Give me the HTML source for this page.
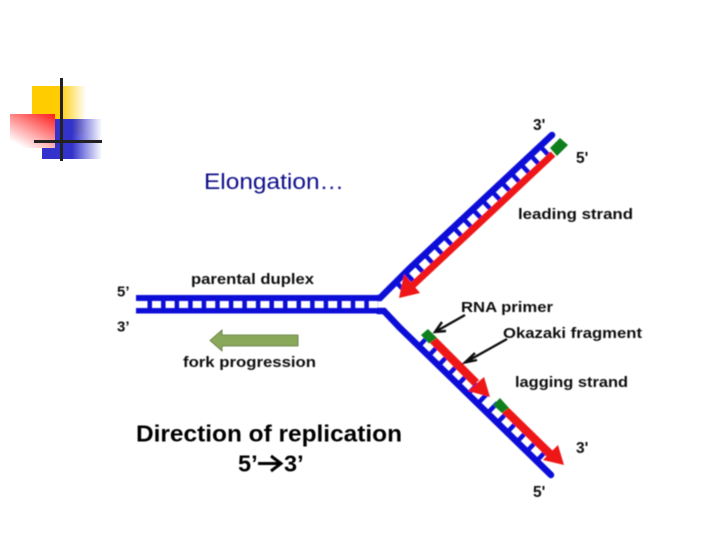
<!DOCTYPE html>
<html><head><meta charset="utf-8"><style>
html,body{margin:0;padding:0;background:#fff;width:720px;height:540px;overflow:hidden}
svg{display:block}
text{font-family:"Liberation Sans",sans-serif;font-weight:bold;fill:#111}
</style></head><body>
<svg width="720" height="540" viewBox="0 0 720 540" xmlns="http://www.w3.org/2000/svg">
<defs>
<linearGradient id="y" x1="0" x2="1" y1="0" y2="0"><stop offset="0.5" stop-color="#ffcc00"/><stop offset="1" stop-color="#ffcc00" stop-opacity="0"/></linearGradient>
<linearGradient id="b" x1="0" x2="1" y1="0" y2="0"><stop offset="0.5" stop-color="#3333cc"/><stop offset="1" stop-color="#3333cc" stop-opacity="0"/></linearGradient>
<linearGradient id="r" x1="1" x2="0.3" y1="0" y2="1"><stop offset="0" stop-color="#ff1a1a"/><stop offset="1" stop-color="#ffffff"/></linearGradient>
<filter id="s" x="-5%" y="-5%" width="110%" height="110%"><feGaussianBlur stdDeviation="0.45"/></filter>
</defs>
<rect x="32" y="86" width="54" height="48" fill="url(#y)"/>
<rect x="42" y="119" width="60" height="40" fill="url(#b)"/>
<rect x="10" y="114" width="45" height="34" fill="url(#r)"/>
<rect x="60" y="78" width="3" height="83" fill="#222"/>
<rect x="34" y="140" width="68" height="3" fill="#222"/>
<g filter="url(#s)">
<text x="204" y="189" font-size="22.500" textLength="140" lengthAdjust="spacingAndGlyphs" style="font-weight:normal;fill:#10108a">Elongation…</text>
<!-- parental duplex -->
<path d="M147.500 304.500H378" stroke="#0a0ad8" stroke-width="9" stroke-dasharray="4.500 9.050" fill="none"/>
<rect x="136" y="295" width="245" height="6" fill="#0a0ad8"/>
<rect x="136" y="308" width="245" height="5.500" fill="#0a0ad8"/>
<!-- upper arm -->
<path d="M548 147L395 292" stroke="#0a0ad8" stroke-width="14" stroke-dasharray="4.500 8.700" stroke-dashoffset="-2.950" fill="none"/>
<path d="M378 298L380 298L410 268L552 135" stroke="#0a0ad8" stroke-width="6.500" fill="none" stroke-linecap="round"/>
<path d="M553 154L412 286" stroke="#ee1818" stroke-width="7" fill="none"/>
<path d="M399 298L404 274L420 293Z" fill="#ee1818"/>
<path d="M550 148L560 138L568 145L557 156Z" fill="#0f7f1f"/>
<!-- lower arm -->
<path d="M421.300 340.400L545 459" stroke="#0a0ad8" stroke-width="15" stroke-dasharray="4.500 9.200" fill="none"/>
<path d="M378 311L384 311L400 328L551 475" stroke="#0a0ad8" stroke-width="6.500" fill="none" stroke-linecap="round"/>
<path d="M431 338L476 383" stroke="#ee1818" stroke-width="8.500" fill="none"/>
<path d="M490 397L484 377L468 391Z" fill="#ee1818"/>
<path d="M505 410L550 454" stroke="#ee1818" stroke-width="8.500" fill="none"/>
<path d="M564 465L558 445L543 460Z" fill="#ee1818"/>
<path d="M428 329L437 338L429 343.500L421 335Z" fill="#0f7f1f"/>
<path d="M500 398L509 408L502 413L493 405Z" fill="#0f7f1f"/>
<!-- pointer arrows -->
<path d="M465 315L435 332M442 322L435 332L446 331" stroke="#111" stroke-width="2.400" fill="none"/>
<path d="M507 339L465 362.500M475 353L465 362.500L477 360" stroke="#111" stroke-width="2.400" fill="none"/>
<!-- fork arrow -->
<path d="M298 335H222V330L210 340.500L222 351V346H298Z" fill="#8aa85a" stroke="#55703a" stroke-width="0.8"/>
<text x="533" y="130" font-size="15.500">3'</text>
<text x="576" y="163" font-size="15.500">5'</text>
<text x="518" y="219" font-size="15" textLength="115" lengthAdjust="spacingAndGlyphs">leading strand</text>
<text x="461" y="312" font-size="15" textLength="92" lengthAdjust="spacingAndGlyphs">RNA primer</text>
<text x="503" y="338" font-size="15" textLength="139" lengthAdjust="spacingAndGlyphs">Okazaki fragment</text>
<text x="515" y="387" font-size="15" textLength="113" lengthAdjust="spacingAndGlyphs">lagging strand</text>
<text x="576" y="453" font-size="15.500">3'</text>
<text x="533" y="497" font-size="15.500">5'</text>
<text x="117" y="296.500" font-size="15">5’</text>
<text x="117" y="331.500" font-size="15">3’</text>
<text x="191" y="284" font-size="15" textLength="123" lengthAdjust="spacingAndGlyphs">parental duplex</text>
<text x="183" y="367" font-size="15" textLength="133" lengthAdjust="spacingAndGlyphs">fork progression</text>
<text x="136" y="441.500" font-size="23.500" textLength="266" lengthAdjust="spacingAndGlyphs" style="fill:#000">Direction of replication</text>
<text x="238" y="471.500" font-size="23.500" style="fill:#000">5’</text>
<path d="M258 463.500H280M271 456L281 463.500L271 471" stroke="#000" stroke-width="3" fill="none"/>
<text x="284" y="471.500" font-size="23.500" style="fill:#000">3’</text>
</g>
</svg>
</body></html>
